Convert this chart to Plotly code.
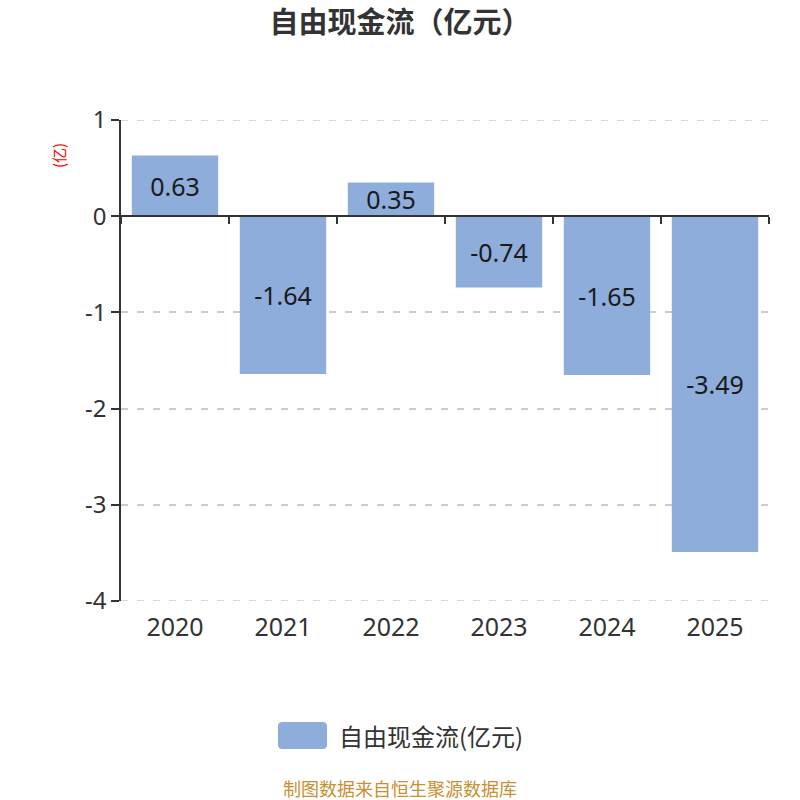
import plotly.graph_objects as go

years = ["2020", "2021", "2022", "2023", "2024", "2025"]
values = [0.63, -1.64, 0.35, -0.74, -1.65, -3.49]
ytick_vals = [1, 0, -1, -2, -3, -4]
ytick_text = ["1", "0", "-1", "-2", "-3", "-4"]
series_name = "自由现金流(亿元)"
title_text = "自由现金流（亿元）"
unit_text = "(亿)"
source_text = "制图数据来自恒生聚源数据库"

CJK = "Noto Sans CJK SC, Noto Sans, sans-serif"
NUM = "Noto Sans, Open Sans, sans-serif"
bar_color = "#8eaddb"
grid_color = "#cccccc"
grid_dash = "7px,9px"
ymin, ymax = -4, 1

fig = go.Figure()
fig.add_trace(go.Bar(
    x=years, y=values, name=series_name, showlegend=False,
    marker=dict(color=bar_color, line=dict(width=0)),
    text=[f"{v:.2f}" for v in values],
    textposition="inside", insidetextanchor="middle",
    constraintext="none",
    textfont=dict(size=25, color="#1a1a1a", family=NUM),
    hoverinfo="skip",
))
# invisible trace to carry the zero-position axis with boundary ticks
fig.add_trace(go.Scatter(
    x=years, y=[0] * len(years), xaxis="x2", mode="markers",
    marker=dict(opacity=0), showlegend=False, hoverinfo="skip",
))

# manual legend (rounded swatch + label)
def rounded_rect(x0, y0, x1, y1, rx, ry):
    return (f"M{x0+rx},{y0} L{x1-rx},{y0} Q{x1},{y0} {x1},{y0+ry} "
            f"L{x1},{y1-ry} Q{x1},{y1} {x1-rx},{y1} L{x0+rx},{y1} "
            f"Q{x0},{y1} {x0},{y1-ry} L{x0},{y0+ry} Q{x0},{y0} {x0+rx},{y0} Z")

sw_x0, sw_x1 = (278 - 121) / 648, (327 - 121) / 648
sw_y0, sw_y1 = (601 - 749) / 481, (601 - 722) / 481

shapes = [
    dict(type="path", xref="paper", yref="paper",
         path=rounded_rect(sw_x0, sw_y0, sw_x1, sw_y1, 0.007, 0.009),
         fillcolor=bar_color, line=dict(width=0)),
]
# edge gridlines (plotly omits gridlines at the range ends)
for v in (ymax, ymin):
    shapes.append(dict(type="line", xref="paper", yref="y", x0=0, x1=1, y0=v, y1=v,
                       line=dict(color=grid_color, width=1.6, dash=grid_dash), layer="below"))

fig.update_layout(
    width=800, height=800,
    margin=dict(l=121, r=31, t=120, b=199),
    paper_bgcolor="white", plot_bgcolor="white",
    bargap=0.2,
    showlegend=False,
    title=dict(text=title_text, x=0.5, xanchor="center", y=0.971, yanchor="middle",
               font=dict(size=29, color="#333333", family=CJK, weight="bold")),
    xaxis=dict(
        type="category", showline=False, ticks="", showgrid=False, zeroline=False,
        tickfont=dict(size=25, color="#333333", family=NUM),
        ticklabelstandoff=9,
    ),
    xaxis2=dict(
        type="category", overlaying="x", anchor="free",
        position=(0 - ymin) / (ymax - ymin), side="bottom",
        showline=True, linecolor="#333333", linewidth=1.5,
        ticks="outside", ticklen=7, tickcolor="#333333", tickwidth=1.5,
        tickson="boundaries", showticklabels=False, showgrid=False, zeroline=False,
        matches="x",
    ),
    yaxis=dict(
        range=[ymin, ymax], tickvals=ytick_vals, ticktext=ytick_text,
        showline=True, linecolor="#333333", linewidth=1.5,
        ticks="outside", ticklen=8, tickcolor="#333333", tickwidth=1.5,
        tickfont=dict(size=24, color="#333333", family=NUM),
        showgrid=True, gridcolor=grid_color, griddash=grid_dash, gridwidth=1.6,
        zeroline=False,
    ),
    shapes=shapes,
    annotations=[
        dict(text=series_name, xref="paper", yref="paper", x=(337 - 121) / 648,
             y=(601 - 735) / 481, showarrow=False, xanchor="left", yanchor="middle",
             font=dict(size=24, color="#333333", family=CJK)),
        dict(text=unit_text, xref="paper", yref="paper", x=(58 - 121) / 648,
             y=(601 - 156) / 481,
             showarrow=False, textangle=-90, xanchor="center", yanchor="middle",
             font=dict(size=15, color="red", family=CJK)),
        dict(text=source_text, xref="paper", yref="paper", x=(400 - 121) / 648,
             y=(601 - 788) / 481,
             showarrow=False, xanchor="center", yanchor="middle",
             font=dict(size=18, color="#c8902f", family=CJK)),
    ],
)

fig.write_html("out.html")
